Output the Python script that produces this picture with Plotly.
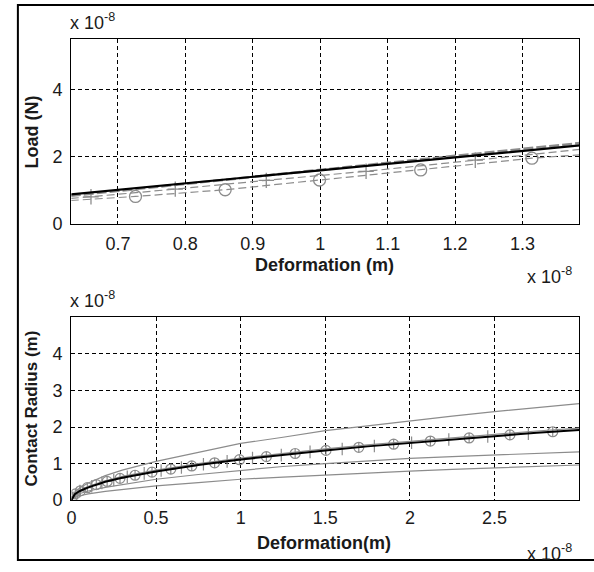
import plotly.graph_objects as go

# ---------------- Top panel: Load vs Deformation (units of 1e-8) ----------------
top_black_x = [0.63, 0.7, 0.8, 0.9, 1.0, 1.1, 1.2, 1.3, 1.385]
top_black_y = [0.88, 1.02, 1.21, 1.40, 1.60, 1.79, 1.98, 2.18, 2.34]

top_upper_x = [0.63, 0.8, 1.0, 1.2, 1.385]
top_upper_y = [0.84, 1.20, 1.62, 2.03, 2.41]

top_plus_x = [0.63, 0.66, 0.785, 0.92, 1.068, 1.23, 1.385]
top_plus_y = [0.76, 0.81, 1.04, 1.30, 1.57, 1.90, 2.22]
top_plus_mx = [0.66, 0.785, 0.92, 1.068, 1.23]
top_plus_my = [0.81, 1.04, 1.30, 1.57, 1.90]

top_circ_x = [0.63, 0.726, 0.859, 0.999, 1.149, 1.314, 1.385]
top_circ_y = [0.70, 0.82, 1.02, 1.31, 1.61, 1.96, 2.06]
top_circ_mx = [0.726, 0.859, 0.999, 1.149, 1.314]
top_circ_my = [0.82, 1.02, 1.31, 1.61, 1.96]

top_xticks = [0.7, 0.8, 0.9, 1.0, 1.1, 1.2, 1.3]
top_xticklabels = ["0.7", "0.8", "0.9", "1", "1.1", "1.2", "1.3"]
top_yticks = [0, 2, 4]
top_yticklabels = ["0", "2", "4"]

# ---------------- Bottom panel: Contact radius vs Deformation ----------------
bot_x = [0, 0.02, 0.05, 0.1, 0.2, 0.3, 0.5, 0.75, 1.0, 1.25, 1.5, 1.75, 2.0, 2.25, 2.5, 2.75, 3.0]
bot_black = [0, 0.16, 0.25, 0.35, 0.50, 0.61, 0.78, 0.96, 1.11, 1.24, 1.36, 1.47, 1.57, 1.66, 1.75, 1.84, 1.92]
bot_upper = [0, 0.22, 0.34, 0.47, 0.67, 0.82, 1.06, 1.31, 1.55, 1.72, 1.90, 2.03, 2.17, 2.30, 2.42, 2.53, 2.64]
bot_near = [0, 0.17, 0.27, 0.38, 0.53, 0.65, 0.82, 1.00, 1.15, 1.28, 1.40, 1.51, 1.61, 1.71, 1.80, 1.89, 1.97]
bot_low1 = [0, 0.12, 0.18, 0.25, 0.35, 0.43, 0.57, 0.70, 0.82, 0.92, 1.00, 1.08, 1.14, 1.19, 1.24, 1.28, 1.32]
bot_low2 = [0, 0.08, 0.12, 0.17, 0.24, 0.29, 0.39, 0.48, 0.57, 0.63, 0.69, 0.74, 0.79, 0.84, 0.88, 0.92, 0.96]

bot_circ_x = [0.006, 0.024, 0.053, 0.094, 0.147, 0.211, 0.287, 0.376, 0.476, 0.587, 0.711,
              0.846, 0.993, 1.152, 1.322, 1.504, 1.698, 1.904, 2.121, 2.350, 2.591, 2.844]
bot_circ_y = [0.085, 0.17, 0.255, 0.34, 0.425, 0.51, 0.595, 0.68, 0.765, 0.85, 0.935,
              1.02, 1.105, 1.19, 1.275, 1.36, 1.445, 1.53, 1.615, 1.70, 1.785, 1.87]

bot_plus_x = [0.05, 0.12, 0.18, 0.25, 0.33, 0.43, 0.53, 0.65, 0.78, 0.92, 1.07, 1.24,
              1.41, 1.60, 1.79, 2.01, 2.23, 2.46, 2.70]
bot_plus_y = [0.25, 0.38, 0.47, 0.55, 0.64, 0.73, 0.81, 0.89, 0.98, 1.06, 1.15, 1.23,
              1.32, 1.40, 1.48, 1.57, 1.66, 1.74, 1.82]

bot_xticks = [0, 0.5, 1, 1.5, 2, 2.5]
bot_xticklabels = ["0", "0.5", "1", "1.5", "2", "2.5"]
bot_yticks = [0, 1, 2, 3, 4]
bot_yticklabels = ["0", "1", "2", "3", "4"]

GRAY = "#8c8c8c"
FONT = "Liberation Sans, Arial, sans-serif"
TXT = "#1a1a1a"

fig = go.Figure()

# top traces
fig.add_trace(go.Scatter(x=top_circ_x, y=top_circ_y, mode="lines",
                         line=dict(color=GRAY, width=1.2, dash="8px,4px"), xaxis="x", yaxis="y"))
fig.add_trace(go.Scatter(x=top_circ_mx, y=top_circ_my, mode="markers",
                         marker=dict(symbol="circle-open", size=12, color=GRAY, line=dict(width=1.3)),
                         xaxis="x", yaxis="y"))
fig.add_trace(go.Scatter(x=top_plus_x, y=top_plus_y, mode="lines",
                         line=dict(color=GRAY, width=1.2, dash="8px,4px"), xaxis="x", yaxis="y"))
fig.add_trace(go.Scatter(x=top_plus_mx, y=top_plus_my, mode="markers",
                         marker=dict(symbol="cross-thin-open", size=11, color=GRAY, line=dict(width=1.3, color=GRAY)),
                         xaxis="x", yaxis="y"))
fig.add_trace(go.Scatter(x=top_upper_x, y=top_upper_y, mode="lines",
                         line=dict(color=GRAY, width=2.5, dash="10px,3px"), xaxis="x", yaxis="y"))
fig.add_trace(go.Scatter(x=top_black_x, y=top_black_y, mode="lines",
                         line=dict(color="black", width=2.2), xaxis="x", yaxis="y"))

# bottom traces
for ys in (bot_upper, bot_near, bot_low1, bot_low2):
    fig.add_trace(go.Scatter(x=bot_x, y=ys, mode="lines",
                             line=dict(color=GRAY, width=1.2), xaxis="x2", yaxis="y2"))
fig.add_trace(go.Scatter(x=bot_circ_x, y=bot_circ_y, mode="markers",
                         marker=dict(symbol="circle-cross-open", size=10, color=GRAY, line=dict(width=1.2)),
                         xaxis="x2", yaxis="y2"))
fig.add_trace(go.Scatter(x=bot_plus_x, y=bot_plus_y, mode="markers",
                         marker=dict(symbol="line-ns-open", size=9, color=GRAY, line=dict(width=1.2, color=GRAY)),
                         xaxis="x2", yaxis="y2"))
fig.add_trace(go.Scatter(x=bot_x, y=bot_black, mode="lines",
                         line=dict(color="black", width=2), xaxis="x2", yaxis="y2"))

W, H = 594, 572
xd = [67 / W, 579 / W]
yd_top = [1 - 228 / H, 1 - 40 / H]
yd_bot = [1 - 509 / H, 1 - 323 / H]

axis_common = dict(showline=True, mirror=True, linecolor="black", linewidth=1.4,
                   showgrid=True, gridcolor="black", gridwidth=1.2, griddash="4px,3px",
                   zeroline=False, ticks="", tickfont=dict(family=FONT, size=18, color=TXT),
                   tickmode="array", fixedrange=True)

fig.update_layout(
    width=W, height=H, autosize=False,
    margin=dict(l=0, r=0, t=0, b=0),
    paper_bgcolor="white", plot_bgcolor="white",
    showlegend=False,
    xaxis=dict(axis_common, domain=xd, anchor="y", range=[0.631, 1.384],
               tickvals=top_xticks, ticktext=top_xticklabels, ticklabelstandoff=3),
    yaxis=dict(axis_common, domain=yd_top, anchor="x", range=[0, 5.5],
               tickvals=top_yticks, ticktext=top_yticklabels, ticklabelstandoff=4),
    xaxis2=dict(axis_common, domain=xd, anchor="y2", range=[0, 3.0],
                tickvals=bot_xticks, ticktext=bot_xticklabels, ticklabelstandoff=1),
    yaxis2=dict(axis_common, domain=yd_bot, anchor="x2", range=[0, 5.0],
                tickvals=bot_yticks, ticktext=bot_yticklabels, ticklabelstandoff=4),
)

def ann(text, x, y, size=16, bold=False, angle=0, xanchor="center"):
    fig.add_annotation(text=(f"<b>{text}</b>" if bold else text), x=x / W, y=1 - y / H,
                       xref="paper", yref="paper", showarrow=False, textangle=angle,
                       xanchor=xanchor, yanchor="middle",
                       font=dict(family=FONT, size=size, color=TXT))

ann("Load (N)", 27, 134, size=18, bold=True, angle=-90)
ann("Contact Radius (m)", 27, 416, size=17, bold=True, angle=-90)
ann("Deformation (m)", 322, 270, size=18, bold=True)
ann("Deformation(m)", 322, 553, size=18, bold=True)
mult = "x 10<sup>-8</sup>"
ann(mult, 64, 22, size=18, xanchor="left")
ann(mult, 524, 280, size=18, xanchor="left")
ann(mult, 64, 305, size=18, xanchor="left")
ann(mult, 524, 562, size=18, xanchor="left")

# outer frame
fig.add_shape(type="rect", xref="paper", yref="paper",
              x0=13 / W, x1=1.05, y0=1 - 570 / H, y1=1 - 5 / H,
              line=dict(color="black", width=2), fillcolor="rgba(0,0,0,0)")

fig.write_html("out.html")
